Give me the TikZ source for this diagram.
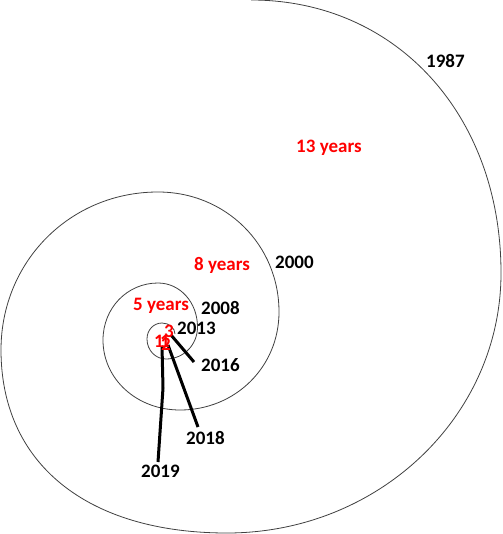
\documentclass[tikz,border=0pt]{standalone}
\usepackage{fontspec}
\setmainfont{Carlito}
\begin{document}
\begin{tikzpicture}[x=1pt,y=-1pt,
  spiral/.style={draw=black!75,line width=0.8pt},
  yr/.style={font=\bfseries\fontsize{19}{19}\selectfont, text=black, inner sep=0pt, anchor=base west},
  dur/.style={font=\bfseries\fontsize{19}{19}\selectfont, text=red, inner sep=0pt, anchor=base west},
  lead/.style={line width=3pt, draw=black}]
\useasboundingbox (0,0) rectangle (502,534);
% spiral
\draw[spiral] (251,0) .. controls (396,0) and (501,114.7) .. (501,273)
  .. controls (501,416.6) and (378.3,533) .. (227,533)
  .. controls (86.9,533) and (1,463.5) .. (1,350)
  .. controls (1,261.5) and (70.1,192) .. (158,192)
  .. controls (225.8,192) and (279,244.8) .. (279,312)
  .. controls (279,366.9) and (235.4,410) .. (180,410)
  .. controls (136.9,410) and (103,379.2) .. (103,340)
  .. controls (103,308.1) and (127.2,283) .. (158,283)
  .. controls (180.1,283) and (197.5,302.4) .. (197.5,327)
  .. controls (197.5,344.9) and (183.6,359) .. (166,359)
  .. controls (155.4,359) and (147,350.2) .. (147,339)
  .. controls (147,330) and (153.6,323) .. (162,323)
  .. controls (169,323) and (175,328) .. (175,334);
% leader lines
\coordinate (a16) at (171,335); \coordinate (b16) at (194,362);
\coordinate (a18) at (168,345); \coordinate (b18) at (198,427);
\coordinate (a19) at (162,346); \coordinate (m19) at (163,388); \coordinate (b19) at (158,462);
\draw[lead] (a16) -- (b16);
\draw[lead] (a18) -- (b18);
\draw[lead] (a19) -- (m19) -- (b19);
% year labels
\node[yr] (y1987) at (426,67.5) {1987};
\node[yr] (y2000) at (275,268.5) {2000};
\node[yr] (y2008) at (201,314) {2008};
\node[yr] (y2013) at (177,334) {2013};
\node[yr] (y2016) at (201,371) {2016};
\node[yr] (y2018) at (186,444) {2018};
\node[yr] (y2019) at (141,477) {2019};
% duration labels
\node[dur] (d13) at (296,152.5) {13 years};
\node[dur] (d8) at (194,270) {8 years};
\node[dur] (d5) at (133,310) {5 years};
\node[dur] (d3) at (164,337) {3};
\node[dur] (d1a) at (154,347) {1};
\node[dur] (d1b) at (160,347) {1};
\node[dur] (d2) at (161,350) {2};
\end{tikzpicture}
\end{document}
